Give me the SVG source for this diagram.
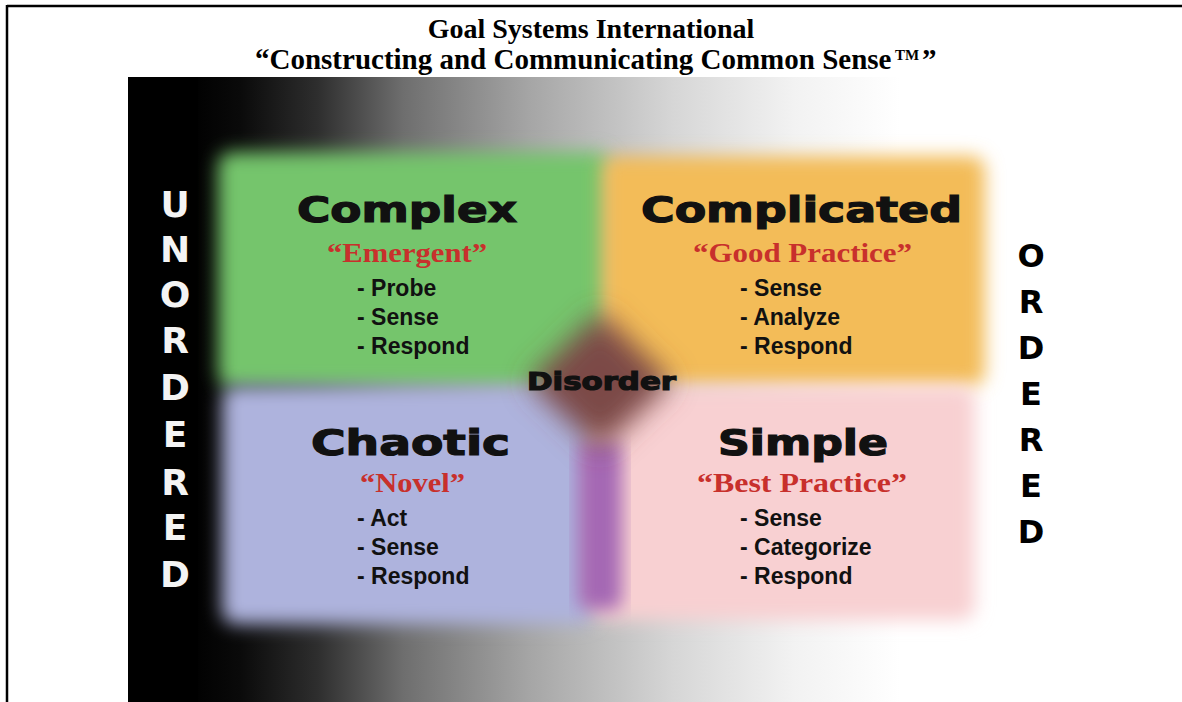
<svg xmlns="http://www.w3.org/2000/svg" width="1182" height="702" viewBox="0 0 1182 702">
<defs>
<linearGradient id="bg" x1="190" y1="0" x2="900" y2="0" gradientUnits="userSpaceOnUse">
<stop offset="0" stop-color="#000"/>
<stop offset="0.07" stop-color="#0a0a0a"/>
<stop offset="0.18" stop-color="#2e2e2e"/>
<stop offset="0.3" stop-color="#6e6e6e"/>
<stop offset="0.48" stop-color="#a6a6a6"/>
<stop offset="0.68" stop-color="#d6d6d6"/>
<stop offset="0.85" stop-color="#f2f2f2"/>
<stop offset="1" stop-color="#fff"/>
</linearGradient>
<filter id="blur" x="-20%" y="-20%" width="140%" height="140%"><feGaussianBlur stdDeviation="9"/></filter>
<filter id="blur2" x="-50%" y="-50%" width="200%" height="200%"><feGaussianBlur stdDeviation="14"/></filter>
<style>
.title{font-family:"Liberation Serif",serif;font-weight:bold;font-size:28px;fill:#000}
.sub{font-family:"Liberation Serif",serif;font-weight:bold;font-size:29px;fill:#000}
.tm{font-family:"Liberation Serif",serif;font-weight:bold;font-size:15px;fill:#000}
.head{font-family:"DejaVu Sans",sans-serif;font-weight:bold;fill:#111;stroke:#111;stroke-width:1.2}
.red{font-family:"Liberation Serif",serif;font-weight:bold;font-size:28px;fill:#c8302c}
.item{font-family:"Liberation Sans",sans-serif;font-weight:bold;font-size:23px;fill:#111}
.side{font-family:"DejaVu Sans",sans-serif;font-weight:bold;text-anchor:middle}
</style>
</defs>
<rect width="1182" height="702" fill="#fff"/>
<g id="frame">
<line x1="7" y1="6" x2="1182" y2="6" stroke="#000" stroke-width="2.5"/>
<line x1="7" y1="5" x2="7" y2="702" stroke="#000" stroke-width="2.5"/>
</g>
<g id="header">
<text class="title" x="591" y="38" text-anchor="middle">Goal Systems International</text>
<text class="sub" x="255" y="69">“Constructing and Communicating Common Sense</text>
<text class="tm" x="895" y="60">TM</text>
<text class="sub" x="922" y="69">”</text>
</g>
<g id="background">
<rect x="128" y="77" width="1046" height="625" fill="url(#bg)"/>
<rect x="128" y="77" width="70" height="625" fill="#000"/>
</g>
<g id="fields">
<rect id="green" x="218" y="152" width="392" height="236" rx="14" fill="#74c56c" filter="url(#blur)"/>
<rect id="orange" x="602" y="156" width="383" height="230" rx="14" fill="#f3bc58" filter="url(#blur)"/>
<rect id="lavender" x="222" y="386" width="372" height="238" rx="14" fill="#aeb3dd" filter="url(#blur)"/>
<rect id="pink" x="592" y="386" width="383" height="234" rx="14" fill="#f8d0d2" filter="url(#blur)"/>
<rect id="purple" x="578" y="440" width="44" height="170" rx="10" fill="#a468b4" filter="url(#blur)"/>
<polygon id="disorder-shape" points="600,312 672,382 600,450 528,382" fill="#7b4a47" filter="url(#blur2)"/>
</g>
<g id="node-complex">
<text class="head" x="297" y="222" font-size="35" textLength="220" lengthAdjust="spacingAndGlyphs">Complex</text>
<text class="red" x="327" y="262" textLength="160" lengthAdjust="spacingAndGlyphs">“Emergent”</text>
<text class="item" x="357" y="296">- Probe</text>
<text class="item" x="357" y="325">- Sense</text>
<text class="item" x="357" y="354">- Respond</text>
</g>
<g id="node-complicated">
<text class="head" x="641" y="222" font-size="35" textLength="321" lengthAdjust="spacingAndGlyphs">Complicated</text>
<text class="red" x="693" y="262" textLength="219" lengthAdjust="spacingAndGlyphs">“Good Practice”</text>
<text class="item" x="740" y="296">- Sense</text>
<text class="item" x="740" y="325">- Analyze</text>
<text class="item" x="740" y="354">- Respond</text>
</g>
<g id="node-chaotic">
<text class="head" x="311" y="455" font-size="35" textLength="199" lengthAdjust="spacingAndGlyphs">Chaotic</text>
<text class="red" x="360" y="492" textLength="105" lengthAdjust="spacingAndGlyphs">“Novel”</text>
<text class="item" x="357" y="526">- Act</text>
<text class="item" x="357" y="555">- Sense</text>
<text class="item" x="357" y="584">- Respond</text>
</g>
<g id="node-simple">
<text class="head" x="718" y="455" font-size="35" textLength="170" lengthAdjust="spacingAndGlyphs">Simple</text>
<text class="red" x="697" y="492" textLength="210" lengthAdjust="spacingAndGlyphs">“Best Practice”</text>
<text class="item" x="740" y="526">- Sense</text>
<text class="item" x="740" y="555">- Categorize</text>
<text class="item" x="740" y="584">- Respond</text>
</g>
<g id="node-disorder">
<text class="head" x="527" y="390" font-size="24" stroke-width="0.8" textLength="149" lengthAdjust="spacingAndGlyphs">Disorder</text>
</g>
<g id="unordered" class="side" font-size="36" fill="#f4f4f4">
<text x="175" y="217">U</text>
<text x="175" y="262">N</text>
<text x="175" y="307">O</text>
<text x="175" y="353">R</text>
<text x="175" y="400">D</text>
<text x="175" y="447">E</text>
<text x="175" y="495">R</text>
<text x="175" y="540">E</text>
<text x="175" y="587">D</text>
</g>
<g id="ordered" class="side" font-size="32" fill="#000">
<text x="1031" y="267">O</text>
<text x="1031" y="313">R</text>
<text x="1031" y="359">D</text>
<text x="1031" y="405">E</text>
<text x="1031" y="451">R</text>
<text x="1031" y="497">E</text>
<text x="1031" y="543">D</text>
</g>
</svg>
